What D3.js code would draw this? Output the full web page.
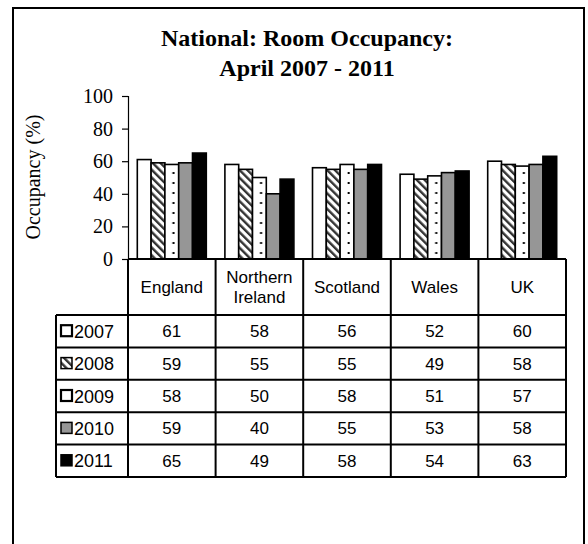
<!DOCTYPE html>
<html>
<head>
<meta charset="utf-8">
<script src="https://cdn.jsdelivr.net/npm/d3@7"></script>
<style>
  body { margin: 0; background: #fff; }
  svg { display: block; }
</style>
</head>
<body>
<div id="chart"></div>
<script>
// ===========================
// National room occupancy
// grouped bars with a data table underneath
// ===========================

const regions = ['England', 'Northern Ireland', 'Scotland', 'Wales', 'UK'];
const regionLabels = [['England'], ['Northern', 'Ireland'], ['Scotland'], ['Wales'], ['UK']];
const years = ['2007', '2008', '2009', '2010', '2011'];

const occ2007 = [61, 58, 56, 52, 60];
const occ2008 = [59, 55, 55, 49, 58];
const occ2009 = [58, 50, 58, 51, 57];
const occ2010 = [59, 40, 55, 53, 58];
const occ2011 = [65, 49, 58, 54, 63];
const series = [occ2007, occ2008, occ2009, occ2010, occ2011];

const yTicks = [0, 20, 40, 60, 80, 100];

const width = 588, height = 544;
const plotLeft = 128, plotRight = 566;
const plotTop = 96, plotBottom = 259;
const headerH = 56, rowH = 32.4;
const legendLeft = 56;
const serif = '"Liberation Serif", "Times New Roman", serif';

const svg = d3.select('#chart').append('svg')
    .attr('width', width)
    .attr('height', height);

const defs = svg.append('defs');

const x = d3.scaleBand()
    .domain(regions)
    .range([plotLeft, plotRight]);

const xInner = d3.scaleBand()
    .domain(years)
    .range([0, x.bandwidth()])
    .paddingOuter(0.674);

const y = d3.scaleLinear()
    .domain([0, 100])
    .range([plotBottom, plotTop]);

// patterns
const hatch = defs.append('pattern')
    .attr('id', 'hatch')
    .attr('patternUnits', 'userSpaceOnUse')
    .attr('width', 5.5).attr('height', 5.5)
    .attr('patternTransform', 'rotate(-45)');
hatch.append('rect').attr('width', 5.5).attr('height', 5.5).attr('fill', '#fff');
hatch.append('rect').attr('width', 2.4).attr('height', 5.5).attr('fill', '#333');

// dots sit in the group's own coordinates, one column per group
const dots = defs.append('pattern')
    .attr('id', 'dots')
    .attr('patternUnits', 'userSpaceOnUse')
    .attr('x', 0).attr('y', 0)
    .attr('width', x.step()).attr('height', 10);
dots.append('rect').attr('width', x.step()).attr('height', 10).attr('fill', '#fff');
dots.append('rect')
    .attr('x', xInner('2009') + xInner.bandwidth() * 0.62 - 1)
    .attr('y', 2)
    .attr('width', 2).attr('height', 2)
    .attr('fill', '#000');

const fills = ['#fff', 'url(#hatch)', 'url(#dots)', '#969696', '#000'];
const keyFills = ['#fff', 'url(#hatch)', '#fff', '#969696', '#000'];

// outer frame
svg.append('rect')
    .attr('x', 13).attr('y', 8)
    .attr('width', 571).attr('height', 580)
    .attr('fill', 'none')
    .attr('stroke', '#000')
    .attr('stroke-width', 2);

// title
const title = svg.append('text')
    .attr('text-anchor', 'middle')
    .attr('font-family', serif)
    .attr('font-weight', 'bold')
    .attr('font-size', '24px');
title.append('tspan').attr('x', 307).attr('y', 46).text('National: Room Occupancy:');
title.append('tspan').attr('x', 307).attr('y', 76).text('April 2007 - 2011');

// y axis
const yAxis = svg.append('g')
    .attr('transform', `translate(${plotLeft},0)`)
    .call(d3.axisLeft(y).tickValues(yTicks).tickSize(6).tickPadding(9));
yAxis.select('.domain').attr('stroke-width', 1.2);
yAxis.selectAll('.tick line').attr('stroke-width', 1.2);
yAxis.selectAll('text')
    .attr('font-family', serif)
    .attr('font-size', '20px')
    .attr('fill', '#000');

svg.append('text')
    .attr('transform', 'translate(40,177) rotate(-90)')
    .attr('text-anchor', 'middle')
    .attr('font-family', serif)
    .attr('font-size', '20px')
    .text('Occupancy (%)');

// bars
const groups = svg.append('g').selectAll('g')
    .data(regions)
    .join('g')
    .attr('transform', d => `translate(${x(d)},0)`);

groups.selectAll('rect')
    .data((d, i) => years.map((yr, j) => ({ year: yr, j, value: series[j][i] })))
    .join('rect')
    .attr('x', d => xInner(d.year))
    .attr('y', d => y(d.value))
    .attr('width', xInner.bandwidth())
    .attr('height', d => plotBottom - y(d.value))
    .attr('fill', d => fills[d.j])
    .attr('stroke', '#000')
    .attr('stroke-width', 1.6);

// data table
const table = svg.append('g')
    .attr('font-family', 'Arial, "Liberation Sans", sans-serif')
    .attr('font-size', '17px')
    .attr('fill', '#000');

const tableBottom = plotBottom + headerH + rowH * years.length;

// header cells
regions.forEach((r, i) => {
    const lines = regionLabels[i];
    const cx = x(r) + x.bandwidth() / 2;
    const cy = plotBottom + headerH / 2;
    const t = table.append('text')
        .attr('text-anchor', 'middle');
    lines.forEach((ln, k) => {
        t.append('tspan')
            .attr('x', cx)
            .attr('y', cy + 6 + (k - (lines.length - 1) / 2) * 20)
            .text(ln);
    });
});

// rows
years.forEach((yr, j) => {
    const top = plotBottom + headerH + rowH * j;
    const mid = top + rowH / 2 + 6;
    table.append('rect')
        .attr('x', legendLeft + 5)
        .attr('y', top + rowH / 2 - 6)
        .attr('width', 11).attr('height', 11)
        .attr('fill', keyFills[j])
        .attr('stroke', '#000')
        .attr('stroke-width', j === 0 || j === 2 ? 2.2 : 1.5);
    table.append('text')
        .attr('x', legendLeft + 18)
        .attr('y', mid + 0.5)
        .attr('font-size', '18px')
        .text(yr);
    regions.forEach((r, i) => {
        table.append('text')
            .attr('x', x(r) + x.bandwidth() / 2)
            .attr('y', mid)
            .attr('text-anchor', 'middle')
            .text(series[j][i]);
    });
});

// table grid
const grid = svg.append('g')
    .attr('stroke', '#000')
    .attr('stroke-width', 2)
    .attr('fill', 'none');

// verticals in header + body
regions.concat(['end']).forEach((r, i) => {
    const xx = i < regions.length ? x(r) : plotRight;
    grid.append('line')
        .attr('x1', xx).attr('x2', xx)
        .attr('y1', plotBottom).attr('y2', tableBottom);
});
grid.append('line')
    .attr('x1', legendLeft).attr('x2', legendLeft)
    .attr('y1', plotBottom + headerH).attr('y2', tableBottom);

// horizontals
grid.append('line')
    .attr('x1', plotLeft).attr('x2', plotRight)
    .attr('y1', plotBottom).attr('y2', plotBottom);
d3.range(years.length + 1).forEach(k => {
    const yy = plotBottom + headerH + rowH * k;
    grid.append('line')
        .attr('x1', legendLeft).attr('x2', plotRight)
        .attr('y1', yy).attr('y2', yy);
});
</script>
</body>
</html>
